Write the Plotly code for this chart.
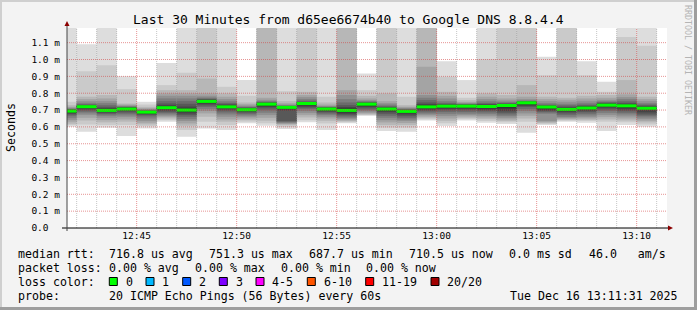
import plotly.graph_objects as go
from datetime import datetime, timedelta

# ---------------- data ----------------
TITLE = "Last 30 Minutes from d65ee6674b40 to Google DNS 8.8.4.4"
DAY = "2025-12-16"
RANGE_START = "12:41:31"
RANGE_END = "13:11:31"

# end time of each 1-minute step
step_end = ["12:42", "12:43", "12:44", "12:45", "12:46", "12:47", "12:48", "12:49", "12:50", "12:51",
            "12:52", "12:53", "12:54", "12:55", "12:56", "12:57", "12:58", "12:59", "13:00", "13:01",
            "13:02", "13:03", "13:04", "13:05", "13:06", "13:07", "13:08", "13:09", "13:10", "13:11"]

# median rtt per step (ms)
median_ms = [0.694, 0.720, 0.698, 0.706, 0.6877, 0.714, 0.700, 0.7513, 0.719, 0.702,
             0.735, 0.716, 0.739, 0.706, 0.698, 0.735, 0.706, 0.692, 0.719, 0.723,
             0.723, 0.721, 0.727, 0.743, 0.718, 0.704, 0.712, 0.729, 0.725, 0.7105]

# the 20 sorted ping rtts of each step (ms)
pings_ms = [
    [0.601, 0.611, 0.619, 0.631, 0.642, 0.654, 0.666, 0.674, 0.680, 0.686, 0.700, 0.702, 0.704, 0.706, 0.710, 0.714, 0.719, 0.729, 0.749, 1.250],
    [0.571, 0.615, 0.638, 0.654, 0.670, 0.680, 0.690, 0.698, 0.706, 0.714, 0.723, 0.727, 0.731, 0.735, 0.743, 0.753, 0.765, 0.779, 0.931, 1.091],
    [0.595, 0.611, 0.627, 0.640, 0.654, 0.666, 0.674, 0.680, 0.686, 0.692, 0.706, 0.712, 0.719, 0.729, 0.741, 0.753, 0.769, 0.789, 0.966, 1.250],
    [0.546, 0.611, 0.631, 0.644, 0.658, 0.668, 0.678, 0.686, 0.694, 0.700, 0.712, 0.716, 0.718, 0.719, 0.723, 0.727, 0.733, 0.739, 0.824, 0.901],
    [0.591, 0.605, 0.615, 0.625, 0.636, 0.650, 0.662, 0.670, 0.676, 0.680, 0.692, 0.694, 0.696, 0.698, 0.702, 0.706, 0.712, 0.719, 0.733, 0.749],
    [0.631, 0.640, 0.650, 0.658, 0.666, 0.674, 0.682, 0.690, 0.698, 0.706, 0.721, 0.729, 0.739, 0.753, 0.769, 0.785, 0.799, 0.818, 0.848, 0.980],
    [0.542, 0.581, 0.607, 0.621, 0.635, 0.646, 0.660, 0.670, 0.680, 0.690, 0.710, 0.721, 0.737, 0.753, 0.769, 0.785, 0.799, 0.818, 0.921, 1.250],
    [0.591, 0.631, 0.660, 0.680, 0.694, 0.706, 0.718, 0.727, 0.735, 0.743, 0.757, 0.761, 0.765, 0.769, 0.775, 0.785, 0.799, 0.887, 1.230, 1.250],
    [0.581, 0.611, 0.631, 0.644, 0.660, 0.674, 0.686, 0.696, 0.704, 0.712, 0.725, 0.731, 0.737, 0.743, 0.753, 0.765, 0.779, 0.799, 0.838, 1.250],
    [0.621, 0.631, 0.640, 0.650, 0.660, 0.668, 0.676, 0.684, 0.690, 0.696, 0.706, 0.710, 0.714, 0.718, 0.721, 0.727, 0.735, 0.745, 0.785, 0.878],
    [0.607, 0.621, 0.636, 0.654, 0.670, 0.684, 0.698, 0.710, 0.718, 0.725, 0.741, 0.743, 0.745, 0.749, 0.753, 0.761, 0.773, 1.210, 1.230, 1.250],
    [0.587, 0.599, 0.611, 0.617, 0.621, 0.625, 0.629, 0.635, 0.698, 0.706, 0.719, 0.721, 0.723, 0.725, 0.729, 0.733, 0.741, 0.753, 0.812, 1.250],
    [0.627, 0.640, 0.656, 0.670, 0.682, 0.694, 0.706, 0.714, 0.721, 0.729, 0.743, 0.745, 0.749, 0.755, 0.765, 0.777, 0.789, 0.808, 1.230, 1.250],
    [0.581, 0.621, 0.636, 0.650, 0.660, 0.670, 0.678, 0.686, 0.692, 0.698, 0.712, 0.714, 0.716, 0.718, 0.721, 0.725, 0.733, 0.745, 0.779, 1.250],
    [0.621, 0.627, 0.633, 0.638, 0.646, 0.654, 0.662, 0.670, 0.678, 0.686, 0.710, 0.718, 0.729, 0.745, 0.765, 0.789, 0.818, 1.210, 1.230, 1.250],
    [0.666, 0.670, 0.674, 0.680, 0.686, 0.694, 0.702, 0.710, 0.718, 0.725, 0.741, 0.743, 0.745, 0.749, 0.753, 0.759, 0.769, 0.785, 0.818, 0.917],
    [0.575, 0.595, 0.611, 0.627, 0.640, 0.654, 0.666, 0.678, 0.688, 0.696, 0.712, 0.716, 0.719, 0.725, 0.733, 0.741, 0.753, 0.799, 1.230, 1.250],
    [0.571, 0.595, 0.611, 0.623, 0.635, 0.644, 0.654, 0.664, 0.674, 0.682, 0.698, 0.700, 0.702, 0.706, 0.710, 0.714, 0.719, 0.729, 0.779, 1.250],
    [0.638, 0.646, 0.654, 0.662, 0.670, 0.678, 0.686, 0.694, 0.702, 0.710, 0.729, 0.735, 0.745, 0.759, 0.773, 0.789, 0.957, 1.210, 1.230, 1.250],
    [0.605, 0.621, 0.636, 0.650, 0.664, 0.676, 0.688, 0.698, 0.706, 0.714, 0.729, 0.733, 0.737, 0.743, 0.753, 0.769, 0.785, 0.808, 0.897, 0.990],
    [0.638, 0.646, 0.654, 0.662, 0.670, 0.678, 0.688, 0.698, 0.706, 0.714, 0.729, 0.731, 0.733, 0.735, 0.739, 0.743, 0.749, 0.759, 0.773, 0.878],
    [0.625, 0.635, 0.646, 0.656, 0.666, 0.676, 0.686, 0.694, 0.702, 0.710, 0.729, 0.733, 0.737, 0.743, 0.753, 0.765, 0.779, 0.799, 1.002, 1.250],
    [0.617, 0.627, 0.635, 0.644, 0.654, 0.664, 0.674, 0.684, 0.694, 0.710, 0.733, 0.735, 0.739, 0.743, 0.749, 0.757, 0.769, 0.789, 1.230, 1.250],
    [0.565, 0.631, 0.650, 0.666, 0.680, 0.694, 0.706, 0.718, 0.725, 0.733, 0.747, 0.749, 0.751, 0.753, 0.757, 0.765, 0.779, 0.848, 1.230, 1.250],
    [0.611, 0.617, 0.623, 0.629, 0.635, 0.678, 0.686, 0.692, 0.698, 0.706, 0.721, 0.725, 0.729, 0.733, 0.741, 0.753, 0.765, 0.779, 0.907, 1.016],
    [0.631, 0.636, 0.642, 0.648, 0.654, 0.660, 0.670, 0.680, 0.688, 0.696, 0.710, 0.716, 0.721, 0.729, 0.737, 0.749, 0.761, 0.773, 1.230, 1.250],
    [0.625, 0.635, 0.642, 0.650, 0.658, 0.668, 0.678, 0.688, 0.696, 0.704, 0.719, 0.723, 0.727, 0.733, 0.743, 0.755, 0.769, 0.785, 0.907, 0.990],
    [0.575, 0.631, 0.644, 0.658, 0.670, 0.682, 0.694, 0.704, 0.714, 0.721, 0.735, 0.739, 0.743, 0.747, 0.753, 0.761, 0.773, 0.789, 0.808, 0.868],
    [0.611, 0.627, 0.638, 0.650, 0.662, 0.674, 0.684, 0.694, 0.704, 0.714, 0.731, 0.737, 0.743, 0.753, 0.765, 0.777, 0.793, 0.878, 1.134, 1.250],
    [0.601, 0.615, 0.627, 0.636, 0.646, 0.656, 0.666, 0.674, 0.686, 0.702, 0.718, 0.721, 0.727, 0.733, 0.741, 0.753, 0.765, 0.779, 1.081, 1.250],
]

x_tick_labels = ["12:45", "12:50", "12:55", "13:00", "13:05", "13:10"]
y_tick_values = [0.0, 0.1, 0.2, 0.3, 0.4, 0.5, 0.6, 0.7, 0.8, 0.9, 1.0, 1.1]
y_tick_labels = ["0.0\u00a0\u00a0", "0.1 m", "0.2 m", "0.3 m", "0.4 m", "0.5 m", "0.6 m",
                 "0.7 m", "0.8 m", "0.9 m", "1.0 m", "1.1 m"]
Y_MAX = 1.187

stats_rtt = ["716.8 us avg", "751.3 us max", "687.7 us min", "710.5 us now", "0.0 ms sd", "46.0   am/s"]
stats_loss = ["0.00 % avg", "0.00 % max", "0.00 % min", "0.00 % now"]
loss_labels = ["0", "1", "2", "3", "4-5", "6-10", "11-19", "20/20"]
loss_colors = ["#00ff00", "#00b8ff", "#0059ff", "#7e00ff", "#ff00ff", "#ff5500", "#ff0000", "#a10000"]
probe_text = "20 ICMP Echo Pings (56 Bytes) every 60s"
stamp_text = "Tue Dec 16 13:11:31 2025"
side_text = "RRDTOOL / TOBI OETIKER"

# ---------------- geometry helpers (pixel -> paper) ----------------
W, H = 697, 310
L, R, T, B = 67, 30, 28, 82
PW, PH = W - L - R, H - T - B


def px(x):
    return (x - L) / PW


def py(y):
    return (T + PH - y) / PH


def tm(s):
    fmt = "%Y-%m-%d %H:%M:%S" if s.count(":") == 2 else "%Y-%m-%d %H:%M"
    return datetime.strptime(DAY + " " + s, fmt)


FONT = "DejaVu Sans Mono"
step_ends = [tm(s) for s in step_end]
step_mids = [e - timedelta(seconds=30) for e in step_ends]

fig = go.Figure()

# smoke bands (smokeping style: outer pair lightest, inner pair darkest)
n = len(pings_ms[0])
half = n // 2
for i in range(1, half + 1):
    g = int(190 / half * (half - i)) + 50
    col = "#%02x%02x%02x" % (g, g, g)
    base = [p[i - 1] for p in pings_ms]
    top = [p[n - i] for p in pings_ms]
    fig.add_trace(go.Bar(
        x=step_mids, y=[t_ - b_ for t_, b_ in zip(top, base)], base=base,
        width=60000, marker=dict(color=col, line=dict(width=0)),
        hoverinfo="skip", showlegend=False))

# median line (loss 0 -> green), one step per interval
mx, my = [], []
for e, m in zip(step_ends, median_ms):
    mx += [e - timedelta(seconds=60), e, None]
    my += [m, m, None]
fig.add_trace(go.Scatter(x=mx, y=my, mode="lines", line=dict(color=loss_colors[0], width=3),
                         hoverinfo="skip", showlegend=False))

shapes = []
# grid (drawn above the smoke, like rrdtool)
for e in step_ends:
    major = (e.minute % 5 == 0)
    shapes.append(dict(type="line", xref="x", yref="paper", x0=e, x1=e, y0=0, y1=1, layer="above",
                       line=dict(color="rgba(210,60,60,0.55)" if major else "rgba(140,140,140,0.5)",
                                 width=1, dash="1px,1px")))
for v in y_tick_values[1:]:
    shapes.append(dict(type="line", xref="paper", yref="y", x0=0, x1=1, y0=v, y1=v, layer="above",
                       line=dict(color="rgba(210,60,60,0.55)", width=1, dash="1px,1px")))

# axes with arrows
shapes.append(dict(type="line", xref="paper", yref="paper", x0=px(62), x1=px(669), y0=py(228), y1=py(228),
                   layer="above", line=dict(color="#000000", width=1)))
shapes.append(dict(type="line", xref="paper", yref="paper", x0=px(67), x1=px(67), y0=py(231), y1=py(24),
                   layer="above", line=dict(color="#444444", width=1)))
shapes.append(dict(type="path", xref="paper", yref="paper", layer="above",
                   path="M %f,%f L %f,%f L %f,%f Z" % (px(64.5), py(26), px(69.5), py(26), px(67), py(21)),
                   fillcolor="#8b0000", line=dict(width=0)))
shapes.append(dict(type="path", xref="paper", yref="paper", layer="above",
                   path="M %f,%f L %f,%f L %f,%f Z" % (px(668), py(225.5), px(668), py(230.5), px(673), py(228)),
                   fillcolor="#8b0000", line=dict(width=0)))

# 3D frame
shapes.append(dict(type="rect", xref="paper", yref="paper", x0=px(0), x1=px(697), y0=py(0), y1=py(2),
                   fillcolor="#cfcfcf", line=dict(width=0), layer="below"))
shapes.append(dict(type="rect", xref="paper", yref="paper", x0=px(0), x1=px(2), y0=py(0), y1=py(310),
                   fillcolor="#cfcfcf", line=dict(width=0), layer="below"))
shapes.append(dict(type="rect", xref="paper", yref="paper", x0=px(0), x1=px(697), y0=py(307), y1=py(310),
                   fillcolor="#9e9e9e", line=dict(width=0), layer="below"))
shapes.append(dict(type="rect", xref="paper", yref="paper", x0=px(694), x1=px(697), y0=py(0), y1=py(310),
                   fillcolor="#9e9e9e", line=dict(width=0), layer="below"))

annotations = []


def text(x, y, s, size=11.6, anchor="left", color="#000000", angle=0):
    annotations.append(dict(x=px(x), y=py(y), xref="paper", yref="paper", text=s, showarrow=False,
                            xanchor=anchor, yanchor="middle", textangle=angle,
                            font=dict(family=FONT, size=size, color=color)))


text(348.5, 19, TITLE, size=13, anchor="center")
text(11, 128, "Seconds", anchor="center", angle=-90)
text(688, 60, side_text, size=8.3, anchor="center", color="#b4b4b4", angle=90)

row1, row2, row3, row4 = 254, 268, 282, 296
text(16, row1, "median rtt:")
for x, s in zip([107.3, 207.3, 307.3, 406.9, 507.3, 586.7], stats_rtt):
    text(x, row1, s)
text(16, row2, "packet loss:")
for x, s in zip([107.3, 193.3, 279.3, 364.0], stats_loss):
    text(x, row2, s)
text(16, row3, "loss color:")
box_x = [109.3, 146.0, 182.7, 219.3, 256.0, 307.3, 365.7, 431.0]
for bx, lab, c in zip(box_x, loss_labels, loss_colors):
    shapes.append(dict(type="rect", xref="paper", yref="paper", x0=px(bx), x1=px(bx + 8),
                       y0=py(row3 - 4.5), y1=py(row3 + 3.5), fillcolor=c,
                       line=dict(color="#000000", width=1), layer="above"))
    text(bx + 14.3, row3, lab)
text(16, row4, "probe:")
text(107.3, row4, probe_text)
text(680, row4, stamp_text, anchor="right")

fig.update_layout(
    width=W, height=H, margin=dict(l=L, r=R, t=T, b=B, pad=0),
    paper_bgcolor="#f3f3f3", plot_bgcolor="#ffffff",
    barmode="overlay", showlegend=False,
    shapes=shapes, annotations=annotations,
    xaxis=dict(type="date", range=[tm(RANGE_START), tm(RANGE_END)], showgrid=False, zeroline=False,
               showline=False, ticks="", tickvals=[tm(s) for s in x_tick_labels], ticktext=x_tick_labels,
               tickfont=dict(family=FONT, size=9.5, color="#000000"), fixedrange=True),
    yaxis=dict(range=[0, Y_MAX], showgrid=False, zeroline=False, showline=False, ticks="",
               tickvals=y_tick_values, ticktext=y_tick_labels, ticklabelstandoff=6,
               tickfont=dict(family=FONT, size=9.5, color="#000000"), fixedrange=True),
)

fig.write_html("out.html", config={"displayModeBar": False})
